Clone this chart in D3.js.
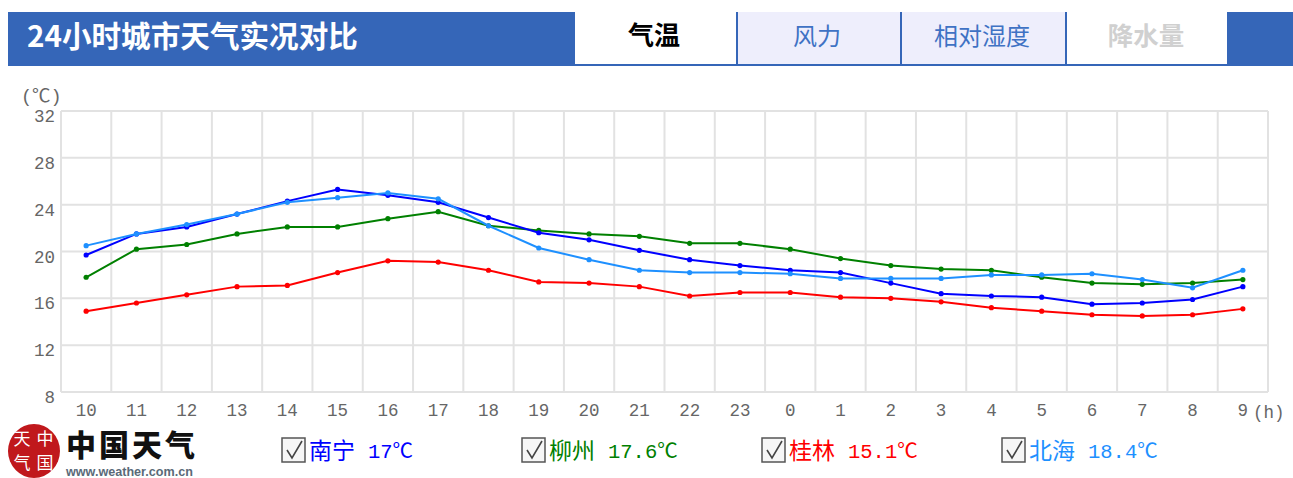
<!DOCTYPE html>
<html>
<head>
  <meta charset="utf-8">
  <title>24小时城市天气实况对比</title>
  <script src="https://cdn.jsdelivr.net/npm/d3@7"></script>
  <style>
    html, body { margin: 0; padding: 0; background: #fff; }
    svg { display: block; }
    text { font-family: "Liberation Mono", "Noto Sans CJK SC", monospace; }
    .cjk { font-family: "Noto Sans CJK SC", sans-serif; }
    .axis path { display: none; }
    .grid line { stroke: #e2e2e2; stroke-width: 2; }
    .tick-label text { fill: #666; font-size: 17.5px; }
  </style>
</head>
<body>
  <svg id="chart" width="1293" height="478"></svg>
  <script>
    var hours = ["10", "11", "12", "13", "14", "15", "16", "17", "18", "19", "20", "21", "22", "23", "0", "1", "2", "3", "4", "5", "6", "7", "8", "9"];
    var tempTicks = [8, 12, 16, 20, 24, 28, 32];
    var tabNames = ["气温", "风力", "相对湿度", "降水量"];
    var cityNames = ["南宁", "柳州", "桂林", "北海"];
    var cityLabels = ["17℃", "17.6℃", "15.1℃", "18.4℃"];
    var cityColors = ["#0000ff", "#008000", "#ff0000", "#1e90ff"];

    var nanning = [19.7, 21.5, 22.1, 23.2, 24.3, 25.3, 24.8, 24.2, 22.9, 21.6, 21, 20.1, 19.3, 18.8, 18.4, 18.2, 17.3, 16.4, 16.2, 16.1, 15.5, 15.6, 15.9, 17];
    var liuzhou = [17.8, 20.2, 20.6, 21.5, 22.1, 22.1, 22.8, 23.4, 22.2, 21.8, 21.5, 21.3, 20.7, 20.7, 20.2, 19.4, 18.8, 18.5, 18.4, 17.8, 17.3, 17.2, 17.3, 17.6];
    var guilin = [14.9, 15.6, 16.3, 17, 17.1, 18.2, 19.2, 19.1, 18.4, 17.4, 17.3, 17, 16.2, 16.5, 16.5, 16.1, 16, 15.7, 15.2, 14.9, 14.6, 14.5, 14.6, 15.1];
    var beihai = [20.5, 21.5, 22.3, 23.2, 24.2, 24.6, 25, 24.5, 22.2, 20.3, 19.3, 18.4, 18.2, 18.2, 18.1, 17.7, 17.7, 17.7, 18, 18, 18.1, 17.6, 16.9, 18.4];
    // drawing order follows the reference: light blue ends up on top
    var seriesList = [guilin, liuzhou, nanning, beihai];
    var seriesColors = [cityColors[2], cityColors[1], cityColors[0], cityColors[3]];

    var svg = d3.select("#chart");

    // header band and tabs
    var tabEdges = [575, 738, 902, 1067, 1229];
    var tabCenters = [654, 817, 982, 1146];
    var tabSizes = [26, 24, 24, 25.5];
    svg.append("rect").attr("x", 8).attr("y", 12).attr("width", 1285).attr("height", 54).attr("fill", "#3566b8");
    svg.append("text").attr("class", "cjk").attr("x", 27).attr("y", 47)
      .attr("fill", "#fff").attr("font-size", 29.6).attr("font-weight", 700).text("24小时城市天气实况对比");
    tabNames.forEach(function (name, i) {
      var fill = i === 1 || i === 2 ? "#eeeefc" : "#fff";
      var color = i === 0 ? "#000" : i === 3 ? "#d0d0d0" : "#3f72c4";
      svg.append("rect").attr("x", tabEdges[i]).attr("y", 12)
        .attr("width", tabEdges[i + 1] - tabEdges[i] - 2).attr("height", 52).attr("fill", fill);
      svg.append("text").attr("class", "cjk")
        .attr("x", tabCenters[i]).attr("y", 45)
        .attr("text-anchor", "middle").attr("fill", color).attr("font-size", tabSizes[i])
        .attr("font-weight", i === 0 || i === 3 ? 700 : 400).text(name);
    });

    // scales
    var x = d3.scaleBand().domain(hours).range([61, 1268]);
    var y = d3.scaleLinear().domain([8, 32]).range([392, 111]);

    // grid
    var grid = svg.append("g").attr("class", "grid");
    grid.selectAll("line.h").data(tempTicks).join("line").attr("class", "h")
      .attr("x1", 61).attr("x2", 1268)
      .attr("y1", function (d) { return y(d); }).attr("y2", function (d) { return y(d); });
    grid.selectAll("line.v").data(hours.concat(["end"])).join("line").attr("class", "v")
      .attr("y1", 111).attr("y2", 392)
      .attr("x1", function (d, i) { return 61 + i * x.step(); })
      .attr("x2", function (d, i) { return 61 + i * x.step(); });

    // axes, labels only
    var yAxis = svg.append("g").attr("class", "axis tick-label")
      .attr("transform", "translate(61,5)")
      .call(d3.axisLeft(y).tickValues(tempTicks).tickSize(0).tickPadding(6));
    yAxis.selectAll("line").remove();
    var xAxis = svg.append("g").attr("class", "axis tick-label")
      .attr("transform", "translate(0,391)")
      .call(d3.axisBottom(x).tickSize(0).tickPadding(13));
    xAxis.selectAll("line").remove();
    svg.selectAll(".tick-label text").attr("font-family", null).attr("font-size", null);

    svg.append("text").attr("x", 21).attr("y", 102).attr("fill", "#666").attr("font-size", 18.5).text("(℃)");
    svg.append("text").attr("x", 1253).attr("y", 418).attr("fill", "#666").attr("font-size", 17.5).text("(h)");

    // series
    var line = d3.line()
      .x(function (d, i) { return x(hours[i]) + x.bandwidth() / 2; })
      .y(function (d) { return y(d); });
    seriesList.forEach(function (values, s) {
      var g = svg.append("g");
      g.append("path").attr("d", line(values)).attr("fill", "none")
        .attr("stroke", seriesColors[s]).attr("stroke-width", 2);
      g.selectAll("circle").data(values).join("circle")
        .attr("cx", function (d, i) { return x(hours[i]) + x.bandwidth() / 2; })
        .attr("cy", function (d) { return y(d); })
        .attr("r", 2.6).attr("fill", seriesColors[s]);
    });

    // legend
    var legendX = [281, 521, 761, 1001];
    cityNames.forEach(function (name, i) {
      var g = svg.append("g").attr("transform", "translate(" + legendX[i] + ",0)");
      g.append("rect").attr("x", 1).attr("y", 438).attr("width", 23).attr("height", 24)
        .attr("fill", "#f6f6f6").attr("stroke", "#555").attr("stroke-width", 1.5);
      g.append("path").attr("d", "M6 450 L11 458 L21 441").attr("fill", "none")
        .attr("stroke", "#444").attr("stroke-width", 1.6);
      g.append("text").attr("class", "cjk").attr("x", 28).attr("y", 459)
        .attr("fill", cityColors[i]).attr("font-size", 23).text(name);
      g.append("text").attr("x", 87).attr("y", 458)
        .attr("fill", cityColors[i]).attr("font-size", 20.5).text(cityLabels[i]);
    });

    // logo
    var logo = svg.append("g");
    logo.append("ellipse").attr("cx", 34).attr("cy", 451).attr("rx", 26).attr("ry", 27).attr("fill", "#c0181c");
    logo.append("text").attr("class", "cjk").attr("x", 22).attr("y", 445).attr("text-anchor", "middle")
      .attr("font-size", 17).attr("fill", "#fff").text("天");
    logo.append("text").attr("class", "cjk").attr("x", 45).attr("y", 445).attr("text-anchor", "middle")
      .attr("font-size", 17).attr("fill", "#fff").text("中");
    logo.append("text").attr("class", "cjk").attr("x", 22).attr("y", 469).attr("text-anchor", "middle")
      .attr("font-size", 17).attr("fill", "#fff").text("气");
    logo.append("text").attr("class", "cjk").attr("x", 45).attr("y", 469).attr("text-anchor", "middle")
      .attr("font-size", 17).attr("fill", "#fff").text("国");
    logo.append("text").attr("class", "cjk").attr("x", 66).attr("y", 456)
      .attr("font-size", 30).attr("font-weight", 900).attr("letter-spacing", 3).attr("fill", "#111").text("中国天气");
    logo.append("text").attr("x", 66).attr("y", 476).attr("font-size", 12.6).attr("font-weight", 700)
      .attr("fill", "#5a6a78").attr("style", "font-family:'Liberation Sans',sans-serif").text("www.weather.com.cn");
  </script>
</body>
</html>
